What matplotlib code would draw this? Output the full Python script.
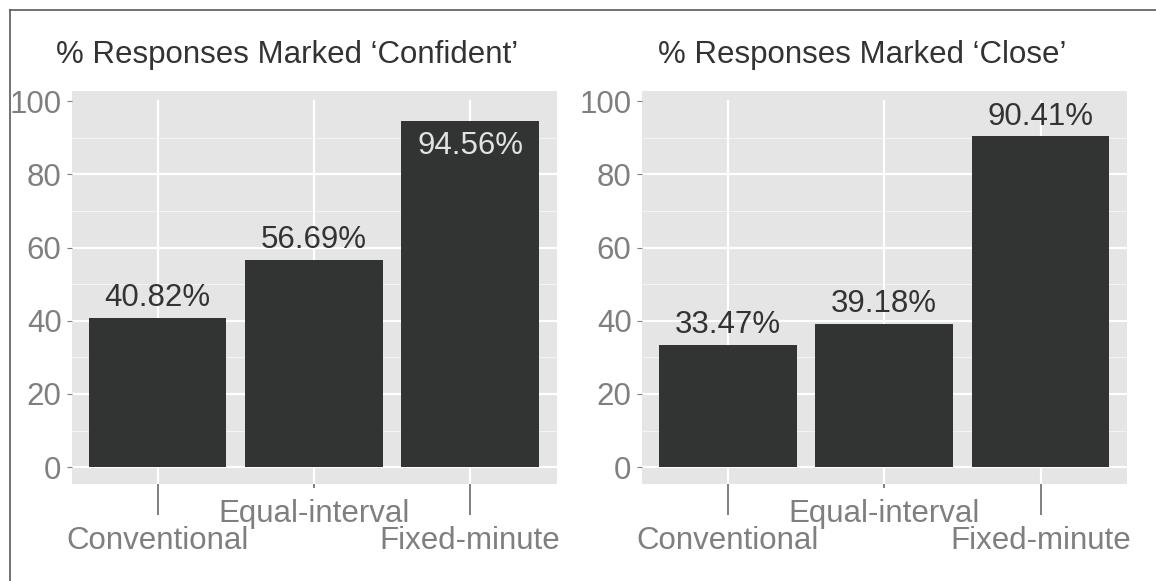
import matplotlib
matplotlib.use("Agg")
import matplotlib.pyplot as plt
from matplotlib.lines import Line2D

# ---- data -------------------------------------------------------------
categories = ["Conventional", "Equal-interval", "Fixed-minute"]
confident_pct = [40.82, 56.69, 94.56]
close_pct = [33.47, 39.18, 90.41]
titles = ["% Responses Marked \u2018Confident\u2019", "% Responses Marked \u2018Close\u2019"]
y_ticks = [0, 20, 40, 60, 80, 100]
y_minor = [10, 30, 50, 70, 90]

# ---- style ------------------------------------------------------------
W, H, DPI = 1156, 581, 100
FS = 22.5
FONT = ["Liberation Sans", "DejaVu Sans"]
plt.rcParams["font.family"] = FONT
PANEL_BG = "#e4e5e4"
BAR = "#323433"
DARK = "#333333"
GREY = "#7f7f7f"
YLIM = (-4.67, 102.76)
XLIM = (0.448, 3.552)

fig = plt.figure(figsize=(W / DPI, H / DPI), dpi=DPI)
fig.patch.set_facecolor("white")

# outer frame (top and left edges visible)
fig.add_artist(Line2D([9.5 / W, 1.0], [1 - 9.5 / H, 1 - 9.5 / H],
                      transform=fig.transFigure, color="#5a5a5a", lw=1.2))
fig.add_artist(Line2D([9.5 / W, 9.5 / W], [0.0, 1 - 9.5 / H],
                      transform=fig.transFigure, color="#5a5a5a", lw=1.2))

top_px, bot_px = 91.0, 484.3
panels = [
    dict(left=71.5, right=556.5, values=confident_pct, title=titles[0], tcx=287),
    dict(left=641.5, right=1127.0, values=close_pct, title=titles[1], tcx=862),
]

px_per_unit = (bot_px - top_px) / (YLIM[1] - YLIM[0])

for p in panels:
    ax = fig.add_axes([p["left"] / W, (H - bot_px) / H,
                       (p["right"] - p["left"]) / W, (bot_px - top_px) / H])
    ax.set_facecolor(PANEL_BG)
    for s in ax.spines.values():
        s.set_visible(False)
    ax.set_xlim(*XLIM)
    ax.set_ylim(*YLIM)

    xs = [i + 1 for i in range(len(categories))]

    # grid
    for v in y_minor:
        ax.axhline(v, color="#f4f4f4", lw=0.8, zorder=0.5)
    for v in y_ticks:
        if v < 100:
            ax.axhline(v, color="white", lw=1.6, zorder=0.6)
    vtop = (100 - YLIM[0]) / (YLIM[1] - YLIM[0])
    for x in xs:
        ax.axvline(x, ymin=0, ymax=vtop, color="white", lw=1.6, zorder=0.6)

    # bars
    ax.bar(xs, p["values"], width=0.88, color=BAR, zorder=2)

    # value labels
    cap_units = 23 / px_per_unit
    gap_units = 11.5 / px_per_unit
    for x, v in zip(xs, p["values"]):
        label = f"{v:.2f}%"
        if v + gap_units + cap_units > YLIM[1]:
            ax.annotate(label, (x, v), xytext=(0, -33), textcoords="offset pixels",
                        ha="center", va="baseline", fontsize=FS, color="#e2e2e2",
                        zorder=3)
        else:
            ax.annotate(label, (x, v), xytext=(0, 11.5), textcoords="offset pixels",
                        ha="center", va="baseline", fontsize=FS, color=DARK,
                        zorder=3)

    # y axis
    ax.set_yticks(y_ticks)
    ax.set_yticklabels([str(t) for t in y_ticks])
    ax.tick_params(axis="y", length=3.6, width=0.8, color=GREY, pad=3.6,
                   labelsize=FS, labelcolor=GREY)

    # x axis: staggered labels, long ticks for outer, short for middle
    major_idx = [0, 2]
    minor_idx = [1]
    ax.set_xticks([xs[i] for i in major_idx])
    ax.set_xticklabels([categories[i] for i in major_idx])
    ax.set_xticks([xs[i] for i in minor_idx], minor=True)
    ax.set_xticklabels([categories[i] for i in minor_idx], minor=True)
    ax.tick_params(axis="x", which="major", length=22.1, width=1.4, color=GREY,
                   pad=8, labelsize=FS, labelcolor=GREY)
    ax.tick_params(axis="x", which="minor", length=2.9, width=1.4, color=GREY,
                   pad=7.5, labelsize=FS, labelcolor=GREY)

    # panel title
    fig.text(p["tcx"] / W, 1 - 63.3 / H, p["title"], ha="center", va="baseline",
             fontsize=FS, color=DARK)

fig.savefig("out.png", dpi=DPI)
